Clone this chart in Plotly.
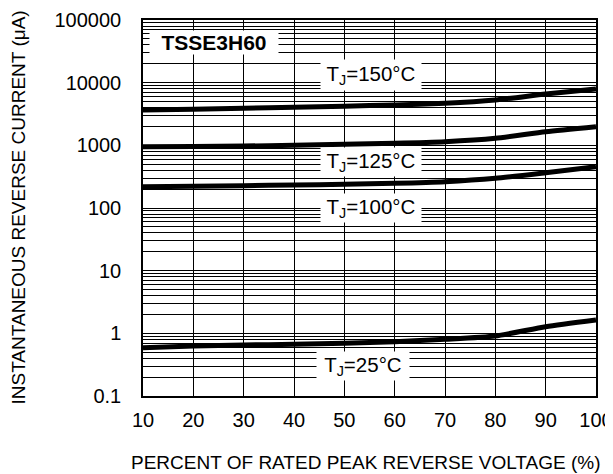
import plotly.graph_objects as go

x_pct = [10, 20, 30, 40, 50, 60, 70, 80, 90, 100]
i_150 = [3660, 3780, 3900, 4050, 4220, 4400, 4690, 5290, 6590, 7900]
i_125 = [951, 962, 975, 1000, 1040, 1078, 1143, 1295, 1652, 1985]
i_100 = [219, 223, 227, 233, 239, 248, 263, 298, 366, 457]
i_25 = [0.590, 0.628, 0.652, 0.668, 0.693, 0.736, 0.804, 0.907, 1.277, 1.633]

y_tickvals = [0.1, 1, 10, 100, 1000, 10000, 100000]
y_ticktext = ["0.1", "1", "10", "100", "1000", "10000", "100000"]

x_title = "PERCENT OF RATED PEAK REVERSE VOLTAGE (%)"
y_title = "INSTANTANEOUS REVERSE CURRENT (μA)"

FONT = "Liberation Sans, Arial, sans-serif"

# page body margin offset (browser default 8px)
OFF = 8
FW, FH = 613 - OFF, 474 - OFF

fig = go.Figure()
for ys in [i_150, i_125, i_100, i_25]:
    fig.add_trace(go.Scatter(x=x_pct, y=ys, mode="lines",
                             line=dict(color="black", width=5, shape="spline", smoothing=0.6),
                             showlegend=False, hoverinfo="skip"))

# plot area in page pixels
L, R, T, B = 143, 596, 20, 396
fig.update_layout(
    width=FW, height=FH,
    margin=dict(l=L - OFF, r=613 - R, t=T - OFF, b=474 - B),
    paper_bgcolor="white", plot_bgcolor="white",
    font=dict(family=FONT, color="black"),
    xaxis=dict(range=[10, 100], dtick=10, tick0=10, automargin=False,
               showgrid=True, gridcolor="black", gridwidth=1,
               showline=True, linecolor="black", linewidth=1.5, mirror=True,
               ticks="", zeroline=False,
               tickfont=dict(size=20, family=FONT),
               ticklabelstandoff=5),
    yaxis=dict(type="log", range=[-1, 5], automargin=False,
               tickvals=y_tickvals, ticktext=y_ticktext,
               showgrid=True, gridcolor="black", gridwidth=1,
               minor=dict(showgrid=True, gridcolor="black", gridwidth=1, dtick="D1", ticks=""),
               showline=True, linecolor="black", linewidth=1.5, mirror=True,
               ticks="", zeroline=False,
               tickfont=dict(size=20, family=FONT),
               ticklabelstandoff=16),
)

W, H = float(R - L), float(B - T)
def px(xpix):
    return (xpix - L) / W
def py(ypix):
    return 1 - (ypix - T) / H

def ann(text, xp, yp, w, h, size, bold=False, angle=0):
    fig.add_annotation(x=px(xp), y=py(yp), xref="paper", yref="paper",
                       text=("<b>%s</b>" % text) if bold else text,
                       showarrow=False, bgcolor="white", width=w, height=h,
                       textangle=angle,
                       font=dict(size=size, family=FONT, color="black"),
                       xanchor="center", yanchor="middle", borderpad=0)

ann("TSSE3H60", 214, 42, 128, 23, 21, bold=True)
ann("T<sub>J</sub>=150°C", 371, 75, 100, 30, 20.5)
ann("T<sub>J</sub>=125°C", 371, 162, 100, 28, 20.5)
ann("T<sub>J</sub>=100°C", 371, 208, 100, 28, 20.5)
ann("T<sub>J</sub>=25°C", 363, 366, 92, 28, 20.5)

fig.add_annotation(x=px(365), y=py(463), xref="paper", yref="paper", text=x_title,
                   showarrow=False, font=dict(size=19, family=FONT, color="black"),
                   xanchor="center", yanchor="middle")
fig.add_annotation(x=px(17.5), y=py(208), xref="paper", yref="paper", text=y_title,
                   showarrow=False, textangle=-90, font=dict(size=19, family=FONT, color="black"),
                   xanchor="center", yanchor="middle")

fig.write_html("out.html")
